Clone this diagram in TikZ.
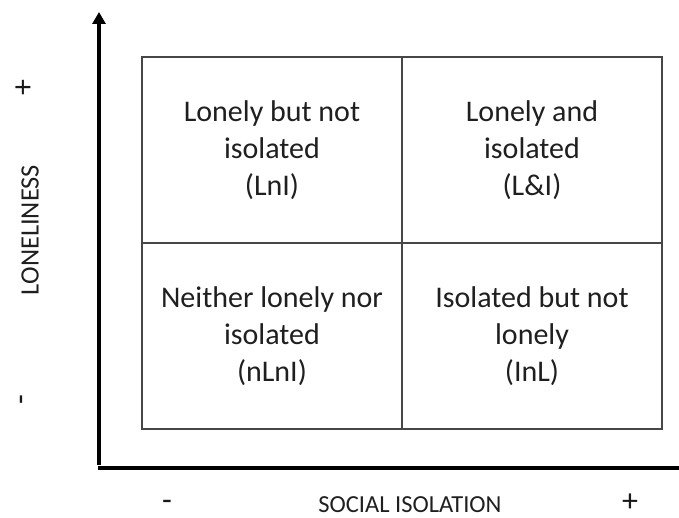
\documentclass[tikz,border=0pt]{standalone}
\usepackage{fontspec}
\setmainfont{Carlito}
\usetikzlibrary{arrows.meta}
\begin{document}
\begin{tikzpicture}[x=1pt,y=1pt,
  cell/.style={draw=black!72,line width=2pt,minimum width=260pt,minimum height=186pt,
    inner sep=0pt,align=center,font=\fontsize{30}{37}\selectfont,text=black!88},
  axis/.style={line width=3.5pt,black},
  axlabel/.style={font=\fontsize{24.5}{28}\selectfont,text=black!88,inner sep=0pt},
  sign/.style={font=\fontsize{32}{34}\selectfont,text=black!90,inner sep=0pt}]
\useasboundingbox (0,0) rectangle (679,518);
% quadrants
\node[cell] (ln) at (272,368) {Lonely but not\\isolated\\(LnI)};
\node[cell] (li) at (532,368) {Lonely and\\isolated\\(L\&I)};
\node[cell] (nn) at (272,182) {Neither lonely nor\\isolated\\(nLnI)};
\node[cell] (il) at (532,182) {Isolated but not\\lonely\\(InL)};
% axes
\coordinate (yb) at (99,53);
\coordinate (yt) at (99,506);
\coordinate (xl) at (98,50);
\coordinate (xr) at (679,50);
\draw[axis,-{Triangle[length=12pt,width=13pt]}] (yb) -- (yt);
\draw[axis] (xl) -- (xr);
% axis labels
\node[sign,rotate=90] (lplus) at (25,430) {+};
\node[axlabel,rotate=90,font=\fontsize{26.5}{30}\selectfont] (lname) at (30,288) {LONELINESS};
\node[sign,rotate=90] (lminus) at (25,118) {-};
\node[sign] (bminus) at (167,13) {-};
\node[axlabel] (bname) at (410,13) {SOCIAL ISOLATION};
\node[sign] (bplus) at (630,15.5) {+};
\end{tikzpicture}
\end{document}
